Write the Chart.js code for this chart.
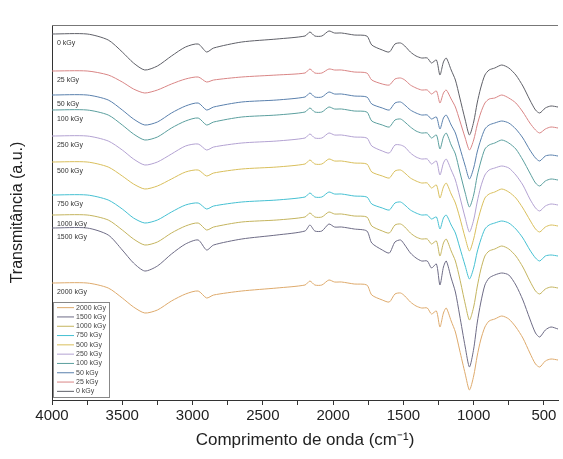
<!DOCTYPE html>
<html>
<head>
<meta charset="utf-8">
<script src="https://cdn.jsdelivr.net/npm/chart.js@4.4.0/dist/chart.umd.min.js"></script>
<style>
  html, body { margin: 0; padding: 0; background: #fff; }
  canvas { display: block; }
</style>
</head>
<body>
<canvas id="ftirChart" width="563" height="459"></canvas>
<script>
// wavenumbers (cm-1), shared by every spectrum
const wavenumbers = [4000, 3750, 3600, 3500, 3420, 3340, 3250, 3150, 3050, 2960,
  2900, 2850, 2650, 2400, 2200, 2165, 2130, 2080, 2030, 1990,
  1940, 1850, 1760, 1725, 1650, 1600, 1560, 1520, 1490, 1450,
  1410, 1370, 1330, 1300, 1265, 1240, 1215, 1195, 1160, 1130,
  1100, 1060, 1030, 1000, 975, 950, 920, 890, 850, 800,
  750, 700, 650, 600, 560, 530, 490, 450, 400];

// transmittance (a.u., stacked)
const t0 = [366, 366, 360, 348, 337, 330, 334, 344, 353, 356, 348, 352, 358, 361, 364, 368, 364, 364, 369, 367, 367, 365, 364, 355, 350, 348, 356, 357, 354, 348, 344, 342, 342, 337, 340, 325, 338, 342, 330, 320, 303, 280, 265, 278, 297, 312, 325, 330, 332, 335, 332, 325, 314, 300, 290, 287, 292, 294, 293];
const t25 = [329, 329, 325, 318, 311, 307, 310, 316, 321, 323, 318, 320, 323, 325, 327, 331, 327, 327, 331, 330, 330, 328, 327, 320, 316, 315, 321, 322, 320, 315, 312, 310, 310, 306, 309, 297, 307, 310, 301, 293, 280, 262, 250, 260, 275, 287, 297, 301, 302, 305, 302, 297, 288, 277, 270, 267, 271, 273, 272];
const t50 = [305, 305, 300, 290, 281, 275, 278, 287, 294, 297, 290, 293, 298, 300, 303, 307, 303, 303, 308, 306, 306, 304, 303, 296, 292, 290, 297, 298, 295, 290, 287, 285, 285, 281, 283, 271, 282, 285, 275, 267, 253, 234, 221, 232, 248, 260, 271, 275, 277, 279, 277, 271, 262, 250, 242, 239, 244, 245, 244];
const t100 = [290, 290, 285, 275, 266, 260, 263, 272, 279, 282, 275, 278, 283, 285, 288, 292, 288, 288, 293, 291, 291, 289, 288, 279, 275, 273, 280, 281, 278, 273, 269, 267, 267, 262, 265, 251, 263, 267, 255, 246, 229, 207, 193, 205, 224, 238, 251, 255, 257, 260, 257, 251, 240, 227, 217, 214, 219, 221, 220];
const t250 = [264, 264, 259, 250, 241, 235, 238, 246, 254, 256, 250, 253, 257, 259, 262, 266, 262, 262, 267, 265, 265, 263, 262, 254, 249, 247, 255, 255, 253, 247, 243, 241, 241, 236, 239, 225, 237, 241, 230, 220, 204, 182, 168, 180, 198, 213, 225, 230, 232, 234, 232, 225, 215, 201, 192, 189, 194, 196, 195];
const t500 = [238, 238, 233, 224, 216, 211, 214, 221, 228, 230, 224, 227, 231, 233, 236, 240, 236, 236, 241, 239, 239, 237, 236, 228, 224, 222, 229, 230, 227, 222, 219, 217, 217, 212, 215, 202, 213, 217, 206, 197, 183, 162, 149, 161, 177, 190, 202, 206, 208, 211, 208, 202, 192, 180, 171, 168, 173, 175, 174];
const t750 = [205, 205, 200, 191, 182, 177, 180, 188, 195, 197, 191, 194, 198, 200, 203, 207, 203, 203, 208, 206, 206, 204, 203, 196, 192, 190, 197, 198, 195, 190, 187, 185, 185, 181, 183, 171, 182, 185, 175, 167, 153, 134, 121, 132, 148, 160, 171, 175, 177, 179, 177, 171, 162, 150, 142, 139, 144, 145, 144];
const t1000 = [185, 185, 180, 170, 161, 155, 158, 167, 174, 177, 170, 173, 178, 180, 183, 187, 183, 183, 188, 186, 186, 184, 183, 174, 169, 167, 175, 176, 173, 167, 163, 161, 161, 156, 159, 144, 157, 161, 149, 139, 122, 96, 80, 93, 113, 130, 144, 149, 151, 154, 151, 144, 133, 119, 109, 106, 111, 113, 112];
const t1500 = [172, 172, 165, 150, 137, 129, 134, 146, 156, 160, 150, 155, 161, 165, 169, 175, 169, 169, 176, 173, 173, 171, 169, 157, 150, 147, 158, 160, 155, 147, 142, 139, 139, 132, 136, 115, 133, 139, 122, 108, 85, 53, 33, 51, 77, 97, 115, 122, 125, 127, 125, 115, 100, 81, 67, 63, 70, 73, 71];
const t2000 = [117, 117, 112, 102, 93, 87, 90, 99, 106, 109, 102, 105, 109, 112, 115, 119, 115, 115, 120, 118, 118, 116, 115, 105, 100, 98, 106, 107, 104, 98, 94, 92, 92, 86, 89, 73, 87, 92, 79, 68, 50, 26, 10, 24, 44, 60, 73, 79, 81, 84, 81, 73, 62, 47, 36, 33, 39, 41, 40];

const doses = ['0 kGy', '25 kGy', '50 kGy', '100 kGy', '250 kGy', '500 kGy', '750 kGy', '1000 kGy', '1500 kGy', '2000 kGy'];
const spectra = [t0, t25, t50, t100, t250, t500, t750, t1000, t1500, t2000];
const colors = ['#5f6068', '#d98585', '#5a80ad', '#5b9f9e', '#b3a2d2', '#d9bf5c', '#45c0d2', '#c4b45e', '#6e6c86', '#deaa6c'];

const xTicks = [4000, 3750, 3500, 3250, 3000, 2750, 2500, 2250, 2000, 1750, 1500, 1250, 1000, 750, 500];
const xLabels = [4000, 3500, 3000, 2500, 2000, 1500, 1000, 500];

const datasets = spectra.map((vals, i) => ({
    label: doses[i],
    data: wavenumbers.map((w, j) => ({ x: w, y: vals[j] })),
    borderColor: colors[i],
    borderWidth: 1,
    pointRadius: 0,
    tension: 0.25,
    fill: false
}));

// curve names written just under the start of each line
const curveLabels = {
    id: 'curveLabels',
    afterDatasetsDraw(chart) {
        const { ctx, scales: { x, y } } = chart;
        ctx.save();
        ctx.font = '7px "Liberation Sans", Arial, sans-serif';
        ctx.fillStyle = '#333';
        ctx.textAlign = 'left';
        ctx.textBaseline = 'middle';
        spectra.forEach((vals, i) => {
            ctx.fillText(doses[i], x.getPixelForValue(3965), y.getPixelForValue(vals[0]) + 9);
        });
        ctx.restore();
    }
};

// boxed legend in the lower left corner, top line, minor ticks
const frameAndLegend = {
    id: 'frameAndLegend',
    afterDraw(chart) {
        const { ctx, chartArea: a } = chart;
        ctx.save();
        ctx.strokeStyle = '#777';
        ctx.lineWidth = 1;
        ctx.beginPath();
        ctx.moveTo(a.left, a.top + 0.5);
        ctx.lineTo(a.right, a.top + 0.5);
        ctx.stroke();

        const boxL = a.left + 1, boxW = 56, rowH = 9.3;
        const boxH = rowH * doses.length + 2;
        const boxT = a.bottom - 3 - boxH;
        ctx.fillStyle = '#fff';
        ctx.fillRect(boxL, boxT, boxW, boxH);
        ctx.strokeStyle = '#888';
        ctx.strokeRect(boxL + 0.5, boxT + 0.5, boxW, boxH);
        ctx.font = '7px "Liberation Sans", Arial, sans-serif';
        ctx.textBaseline = 'middle';
        ctx.textAlign = 'left';
        for (let k = 0; k < doses.length; k++) {
            const i = doses.length - 1 - k;
            const yy = boxT + 1 + rowH * (k + 0.5);
            ctx.strokeStyle = colors[i];
            ctx.beginPath();
            ctx.moveTo(boxL + 4, yy);
            ctx.lineTo(boxL + 21, yy);
            ctx.stroke();
            ctx.fillStyle = '#444';
            ctx.fillText(doses[i], boxL + 23, yy);
        }
        ctx.restore();
    }
};

new Chart(document.getElementById('ftirChart'), {
    type: 'line',
    data: { datasets },
    options: {
        responsive: false,
        animation: false,
        layout: { padding: { left: 0, right: 5, top: 25, bottom: 0 } },
        plugins: {
            legend: { display: false },
            tooltip: { enabled: false }
        },
        scales: {
            x: {
                type: 'linear',
                reverse: true,
                min: 400,
                max: 4000,
                afterBuildTicks: (scale) => { scale.ticks = xTicks.map(v => ({ value: v })); },
                afterFit: (scale) => { scale.height = 59; },
                ticks: {
                    autoSkip: false,
                    maxRotation: 0,
                    padding: 2,
                    color: '#222',
                    font: { family: '"Liberation Sans", Arial, sans-serif', size: 15 },
                    callback: (v) => xLabels.includes(v) ? String(v) : ''
                },
                grid: { drawOnChartArea: false, drawTicks: true, tickLength: 5, color: '#333' },
                border: { display: true, color: '#333', width: 1 },
                title: {
                    display: true,
                    text: 'Comprimento de onda (cm⁻¹)',
                    color: '#222',
                    font: { family: '"Liberation Sans", Arial, sans-serif', size: 17 },
                    padding: { top: 0, bottom: 8 }
                }
            },
            y: {
                min: 0,
                max: 375,
                afterFit: (scale) => { scale.width = 52; },
                ticks: { display: false },
                grid: { display: false },
                border: { display: true, color: '#333', width: 1 },
                title: {
                    display: true,
                    text: 'Transmitância (a.u.)',
                    color: '#222',
                    font: { family: '"Liberation Sans", Arial, sans-serif', size: 16 },
                    padding: { top: 8, bottom: 0 }
                }
            }
        }
    },
    plugins: [curveLabels, frameAndLegend]
});
</script>
</body>
</html>
